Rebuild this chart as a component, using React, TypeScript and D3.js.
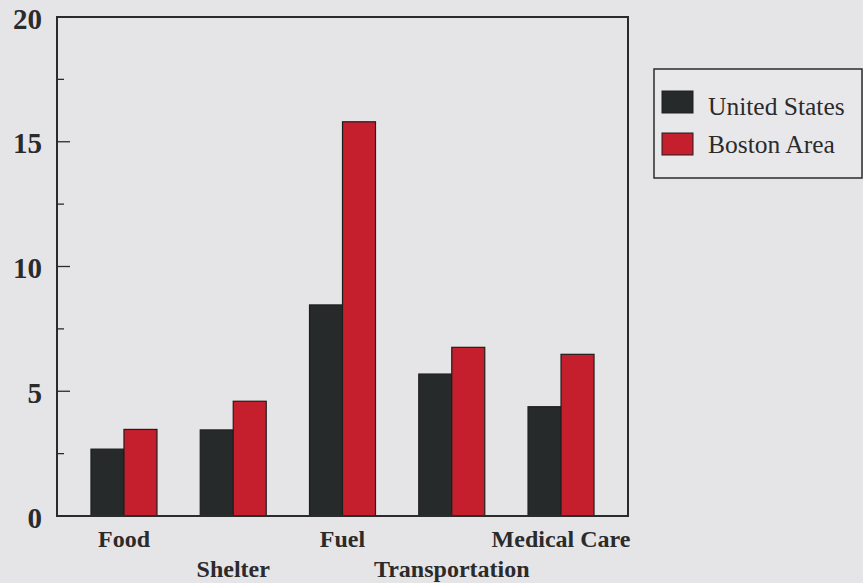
import React from "react";
import * as d3 from "d3";

const categories = ["Food", "Shelter", "Fuel", "Transportation", "Medical Care"];
const seriesNames = ["United States", "Boston Area"];
const usValues = [2.68, 3.45, 8.46, 5.69, 4.38];
const bostonValues = [3.47, 4.6, 15.8, 6.76, 6.48];
const yMajorTicks = [0, 5, 10, 15, 20];
const yMinorTicks = [2.5, 7.5, 12.5, 17.5];

const W = 863;
const H = 583;
const plot = { left: 57, right: 628, top: 17, bottom: 516 };
const colors = ["#262a2b", "#c51f2e"];
const ink = "#2b2b2b";
const font = "'Liberation Serif', 'Times New Roman', serif";

export default function App() {
  const x = d3
    .scaleBand<string>()
    .domain(categories)
    .range([plot.left, plot.right])
    .paddingInner(0.396)
    .paddingOuter(0.311);
  const sub = d3
    .scaleBand<string>()
    .domain(seriesNames)
    .range([0, x.bandwidth()])
    .padding(0);
  const y = d3.scaleLinear().domain([0, 20]).range([plot.bottom, plot.top]);
  const series = [usValues, bostonValues];
  const legendSwatchY = [91, 133];
  const legendTextY = [115, 153];

  return (
    <svg
      width={W}
      height={H}
      style={{ position: "absolute", left: 0, top: 0, background: "#e5e5e7" }}
    >
      <rect x={0} y={0} width={W} height={H} fill="#e5e5e7" />
      {categories.map((c, i) =>
        seriesNames.map((s, j) => {
          const v = series[j][i];
          return (
            <rect
              key={c + s}
              x={(x(c) as number) + (sub(s) as number)}
              y={y(v)}
              width={sub.bandwidth()}
              height={y(0) - y(v)}
              fill={colors[j]}
              stroke="#1e1e1e"
              strokeWidth={1.2}
            />
          );
        })
      )}
      <rect
        x={plot.left}
        y={plot.top}
        width={plot.right - plot.left}
        height={plot.bottom - plot.top}
        fill="none"
        stroke={ink}
        strokeWidth={2}
      />
      {yMajorTicks.map((t) => (
        <g key={"M" + t}>
          <line x1={plot.left} x2={plot.left + 13} y1={y(t)} y2={y(t)} stroke={ink} strokeWidth={1.3} />
          <text
            x={42}
            y={y(t)}
            dy="0.4em"
            textAnchor="end"
            fontFamily={font}
            fontWeight="bold"
            fontSize={29}
            fill={ink}
          >
            {t}
          </text>
        </g>
      ))}
      {yMinorTicks.map((t) => (
        <line key={"m" + t} x1={plot.left} x2={plot.left + 7} y1={y(t)} y2={y(t)} stroke={ink} strokeWidth={1.3} />
      ))}
      {categories.map((c, i) => (
        <text
          key={"xl" + c}
          x={(x(c) as number) + x.bandwidth() / 2}
          y={i % 2 === 0 ? 547 : 577}
          textAnchor="middle"
          fontFamily={font}
          fontWeight="bold"
          fontSize={24}
          fill={ink}
        >
          {c}
        </text>
      ))}
      <rect x={654} y={69} width={208} height={109} fill="#e8e8ea" stroke={ink} strokeWidth={1.5} />
      {seriesNames.map((s, j) => (
        <g key={"lg" + s}>
          <rect x={662} y={legendSwatchY[j]} width={31} height={22} fill={colors[j]} stroke="#1e1e1e" strokeWidth={1} />
          <text x={708} y={legendTextY[j]} fontFamily={font} fontSize={25.5} fill={ink}>
            {s}
          </text>
        </g>
      ))}
    </svg>
  );
}
